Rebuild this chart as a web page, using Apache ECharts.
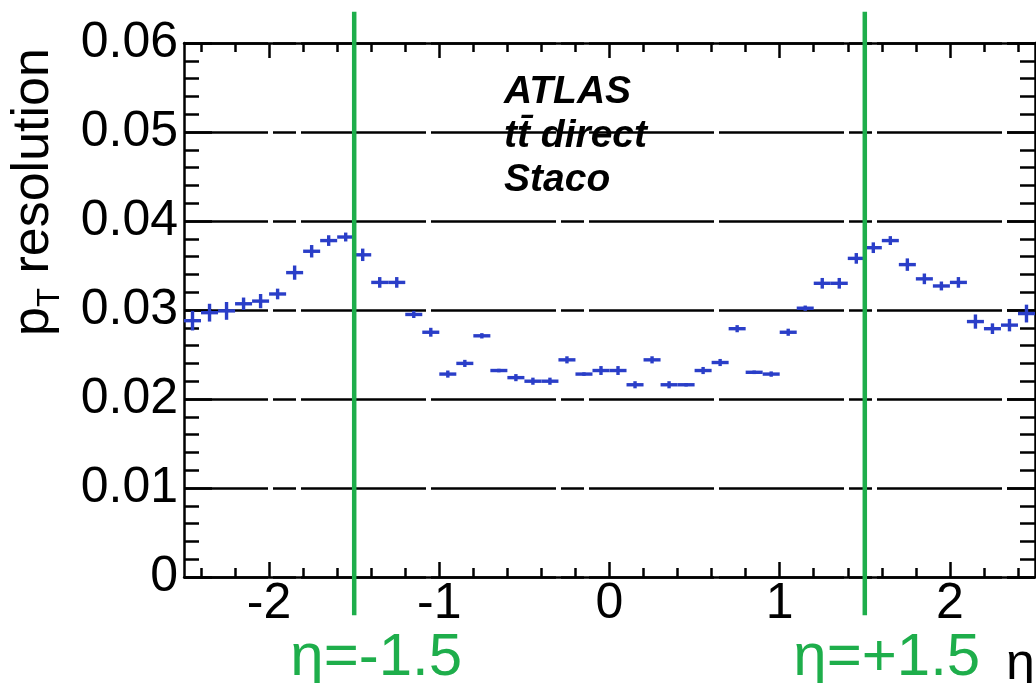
<!DOCTYPE html>
<html>
<head>
<meta charset="utf-8">
<script src="https://cdn.jsdelivr.net/npm/echarts@6/dist/echarts.min.js"></script>
<style>
  html, body { margin: 0; padding: 0; background: #fff; }
  #chart { width: 1036px; height: 683px; }
</style>
</head>
<body>
<div id="chart"></div>
<script>
// pT resolution vs eta, ttbar direct, Staco muons
const etaCenters = [
  -2.45, -2.35, -2.25, -2.15, -2.05, -1.95, -1.85, -1.75, -1.65, -1.55,
  -1.45, -1.35, -1.25, -1.15, -1.05, -0.95, -0.85, -0.75, -0.65, -0.55,
  -0.45, -0.35, -0.25, -0.15, -0.05, 0.05, 0.15, 0.25, 0.35, 0.45,
  0.55, 0.65, 0.75, 0.85, 0.95, 1.05, 1.15, 1.25, 1.35, 1.45,
  1.55, 1.65, 1.75, 1.85, 1.95, 2.05, 2.15, 2.25, 2.35, 2.45
];
const resolution = [
  0.0288, 0.0297, 0.0299, 0.0307, 0.0310, 0.0318, 0.0342, 0.0366, 0.0378, 0.0382,
  0.0362, 0.0331, 0.0331, 0.0295, 0.0275, 0.0228, 0.0240, 0.0271, 0.0232, 0.0224,
  0.0220, 0.0220, 0.0244, 0.0228, 0.0232, 0.0232, 0.0216, 0.0244, 0.0216, 0.0216,
  0.0232, 0.0241, 0.0279, 0.0230, 0.0228, 0.0275, 0.0302, 0.0330, 0.0330, 0.0358,
  0.0370, 0.0378, 0.0351, 0.0335, 0.0327, 0.0331, 0.0287, 0.0279, 0.0283, 0.0296
];
const resolutionErr = [
  0.0011, 0.0010, 0.0010, 0.0007, 0.0008, 0.0006, 0.0008, 0.0007, 0.0006, 0.0005,
  0.0007, 0.0006, 0.0006, 0.0004, 0.0005, 0.0004, 0.0004, 0.0003, 0.0002, 0.0004,
  0.0004, 0.0004, 0.0004, 0.0002, 0.0005, 0.0005, 0.0004, 0.0004, 0.0004, 0.0002,
  0.0004, 0.0004, 0.0004, 0.0002, 0.0003, 0.0004, 0.0003, 0.0006, 0.0006, 0.0006,
  0.0006, 0.0005, 0.0007, 0.0006, 0.0005, 0.0006, 0.0008, 0.0006, 0.0007, 0.0010
];
const binHalfWidth = 0.05;

const xMajorTicks = [-2, -1, 0, 1, 2];
const xMinorTicks = [-2.4, -2.2, -1.8, -1.6, -1.4, -1.2, -0.8, -0.6, -0.4, -0.2,
                     0.2, 0.4, 0.6, 0.8, 1.2, 1.4, 1.6, 1.8, 2.2, 2.4];

// barrel / endcap boundaries
const boundaries = [-1.5, 1.5];
const boundaryLabels = ['η=-1.5', 'η=+1.5'];
const boundaryTop = 0.0635;
const boundaryBottom = -0.0043;

const atlasLines = ['ATLAS', 'tt\u0304 direct', 'Staco'];

const FONT = 'Liberation Sans, Arial, sans-serif';
const BLUE = '#2a3ec8';
const GREEN = '#1eae4b';
const AXIS_W = 2.5;

const points = etaCenters.map((x, i) => [x, resolution[i], resolutionErr[i]]);
const boundaryData = boundaries.map((v, i) => [v, boundaryTop, boundaryBottom, i]);

function xAxisBase(position, ticks, len, withLine, withLabels) {
  return {
    type: 'value', position: position, min: -2.5, max: 2.5,
    axisLine: { show: withLine, onZero: false, lineStyle: { color: '#000', width: AXIS_W } },
    axisTick: { show: true, inside: true, length: len, customValues: ticks,
                lineStyle: { color: '#000', width: AXIS_W } },
    axisLabel: withLabels ? {
      show: true, customValues: xMajorTicks, margin: 2,
      color: '#000', fontSize: 50, fontFamily: FONT
    } : { show: false },
    splitLine: { show: false }
  };
}

function yAxisBase(position, withLabels) {
  return {
    type: 'value', position: position, min: 0, max: 0.06, interval: 0.01,
    axisLine: { show: true, onZero: false, lineStyle: { color: '#000', width: AXIS_W } },
    axisTick: { show: true, inside: true, length: 28, lineStyle: { color: '#000', width: AXIS_W } },
    minorTick: { show: true, splitNumber: 5, length: 15, lineStyle: { color: '#000', width: AXIS_W } },
    axisLabel: withLabels ? {
      show: true, margin: 6, color: '#000', fontSize: 50, fontFamily: FONT,
      padding: [10, 0, 0, 0]
    } : { show: false },
    splitLine: withLabels ? {
      show: true,
      lineStyle: { color: '#000', width: 2.5, type: [125, 5, 23, 5, 125, 5], dashOffset: 41 }
    } : { show: false }
  };
}

const chart = echarts.init(document.getElementById('chart'), null, { renderer: 'canvas' });

const xMain = xAxisBase('bottom', xMajorTicks, 15, true, true);
xMain.name = 'η';
xMain.nameLocation = 'end';
xMain.nameGap = -29;
xMain.nameTextStyle = { color: '#000', fontSize: 52, fontFamily: FONT,
                        align: 'left', verticalAlign: 'top', padding: [62, 0, 0, 0] };

const yMain = yAxisBase('left', true);
yMain.name = '{p|p}{s|T}{r| resolution}';
yMain.nameLocation = 'middle';
yMain.nameRotate = 90;
yMain.nameGap = 118;
yMain.nameTextStyle = {
  color: '#000', fontFamily: FONT, fontSize: 52,
  padding: [0, 0, 0, 236],
  rich: {
    p: { fontSize: 52, fontFamily: FONT, color: '#000', lineHeight: 58, verticalAlign: 'top', padding: [0, 0, 6, 0] },
    r: { fontSize: 52, fontFamily: FONT, color: '#000', lineHeight: 58, verticalAlign: 'top', padding: [0, 0, 6, 0] },
    s: { fontSize: 31, fontFamily: FONT, color: '#000', lineHeight: 31, verticalAlign: 'bottom' }
  }
};

chart.setOption({
  animation: false,
  backgroundColor: '#fff',
  grid: { left: 184, right: 1, top: 43, bottom: 106, containLabel: false, outerBoundsMode: 'none' },
  xAxis: [
    xMain,
    xAxisBase('bottom', xMinorTicks, 9, false, false),
    xAxisBase('top', xMajorTicks, 15, true, false),
    xAxisBase('top', xMinorTicks, 9, false, false)
  ],
  yAxis: [
    yMain,
    yAxisBase('right', false)
  ],
  graphic: [{
    id: 'atlas', type: 'text', left: 504, top: 70, z: 1,
    style: {
      text: atlasLines.join('\n'), fill: '#000', font: 'italic bold 39px ' + FONT,
      lineHeight: 44
    }
  }],
  series: [{
    type: 'custom',
    name: 'Staco',
    xAxisIndex: 0, yAxisIndex: 0,
    clip: false,
    z: 3,
    data: points,
    renderItem: function (params, api) {
      const x = api.value(0), y = api.value(1), e = api.value(2);
      const l = api.coord([x - binHalfWidth, y]);
      const r = api.coord([x + binHalfWidth, y]);
      const t = api.coord([x, y + e]);
      const b = api.coord([x, y - e]);
      const st = { stroke: BLUE, lineWidth: 3.4 };
      return {
        type: 'group',
        children: [
          { type: 'line', shape: { x1: l[0], y1: l[1], x2: r[0], y2: r[1] }, style: st },
          { type: 'line', shape: { x1: t[0], y1: t[1], x2: b[0], y2: b[1] }, style: st }
        ]
      };
    }
  }, {
    // vertical boundary lines with their captions
    type: 'custom',
    name: 'boundaries',
    xAxisIndex: 0, yAxisIndex: 0,
    clip: false,
    silent: true,
    z: 5,
    data: boundaryData,
    renderItem: function (params, api) {
      const v = api.value(0);
      const top = api.coord([v, api.value(1)]);
      const bot = api.coord([v, api.value(2)]);
      return {
        type: 'group',
        children: [
          { type: 'line', shape: { x1: top[0], y1: top[1], x2: bot[0], y2: bot[1] },
            style: { stroke: GREEN, lineWidth: 4.5 } },
          { type: 'text', x: bot[0] + 22, y: bot[1] + 13,
            style: { text: boundaryLabels[api.value(3)], fill: GREEN, font: '60px ' + FONT,
                     align: 'center', verticalAlign: 'top' } }
        ]
      };
    }
  }]
});
</script>
</body>
</html>
